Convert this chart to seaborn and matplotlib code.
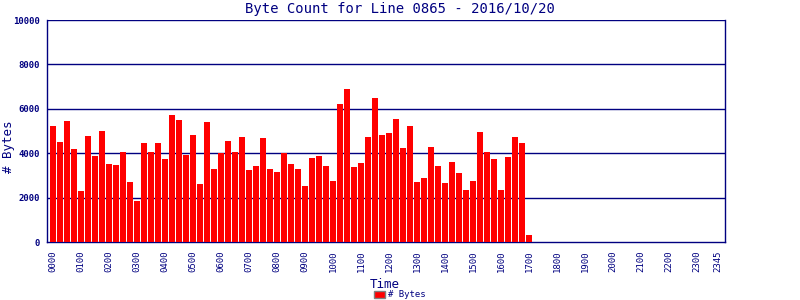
import matplotlib
matplotlib.use("Agg")
import matplotlib.pyplot as plt
import seaborn as sns
import pandas as pd
from matplotlib.patches import Patch

# 15-minute intervals starting 0000
byte_counts = [5228, 4509, 5453, 4194, 2307, 4779, 3880, 5003, 3520, 3475,
               4060, 2711, 1858, 4464, 4060, 4464, 3745, 5722, 5498, 3925,
               4824, 2622, 5408, 3296, 4015, 4554, 4060, 4734, 3251, 3430,
               4689, 3296, 3161, 4015, 3520, 3296, 2532, 3790, 3880, 3430,
               2756, 6217, 6891, 3385, 3565, 4734, 6486, 4824, 4913, 5543,
               4239, 5228, 2711, 2891, 4284, 3430, 2666, 3610, 3116, 2352,
               2756, 4958, 4060, 3745, 2352, 3835, 4734, 4464, 330]
tick_labels = ["0000", "0100", "0200", "0300", "0400", "0500", "0600", "0700",
               "0800", "0900", "1000", "1100", "1200", "1300", "1400", "1500",
               "1600", "1700", "1800", "1900", "2000", "2100", "2200", "2300", "2345"]
y_ticks = [0, 2000, 4000, 6000, 8000, 10000]

slots = list(range(len(byte_counts)))
df = pd.DataFrame({"slot": slots, "bytes": byte_counts})

navy = "#000080"
sns.set_theme(style="white")
plt.rcParams["font.family"] = ["DejaVu Sans Mono"]

fig = plt.figure(figsize=(8, 3), dpi=100)
ax = fig.add_axes([47/800, 1 - 242/300, (725 - 47)/800, (242 - 20)/300])

sns.barplot(data=df, x="slot", y="bytes", native_scale=True, color="#ff0000",
            saturation=1, width=0.85, edgecolor="none", ax=ax, zorder=3)

def slot_of(lbl):
    return int(lbl[:2]) * 4 + int(lbl[2:]) // 15

ax.set_xlim(-0.85, 96.0)
ax.set_ylim(0, 10000)
ax.set_xticks([slot_of(t) for t in tick_labels])
ax.set_xticklabels(tick_labels, rotation=90, fontsize=6.5, color=navy)
ax.set_yticks(y_ticks)
ax.set_yticklabels([str(v) for v in y_ticks], fontsize=6.5, color=navy, fontweight="bold")
ax.tick_params(axis="both", length=3, width=1, color=navy, pad=2)
ax.tick_params(axis="x", length=0, pad=6)

for v in y_ticks[1:]:
    ax.axhline(v, color=navy, lw=1, zorder=2)
for s in ax.spines.values():
    s.set_color(navy)
    s.set_linewidth(1)
ax.spines["top"].set_visible(False)

ax.set_xlabel("Time", fontsize=9, color=navy)
ax.set_ylabel("# Bytes", fontsize=9, color=navy)
ax.xaxis.set_label_coords((385 - 47) / 678, (242 - 278) / 222)
ax.yaxis.set_label_coords((15 - 47) / 678, (242 - 147) / 222)
fig.text(0.5, 0.97, "Byte Count for Line 0865 - 2016/10/20", ha="center", va="center",
         fontsize=10, color=navy)

handle = Patch(facecolor="#ff0000", edgecolor="#808080", linewidth=1)
fig.legend([handle], ["# Bytes"], loc="center", bbox_to_anchor=(0.5, 0.017),
           frameon=False, fontsize=6.5, handlelength=1.2, handleheight=0.9,
           handletextpad=0.3, labelcolor=navy)

fig.savefig("out.png", dpi=100)
